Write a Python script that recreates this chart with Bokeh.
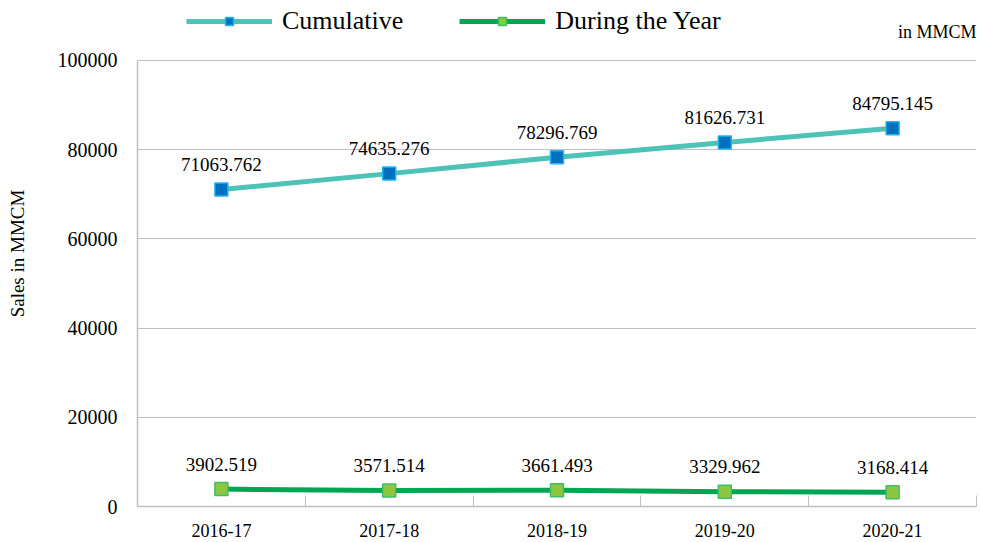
from bokeh.plotting import figure
from bokeh.models import (Range1d, FixedTicker, ColumnDataSource, LabelSet, Label,
                          Legend, LegendItem)
from bokeh.embed import file_html
from bokeh.resources import INLINE

years = ["2016-17", "2017-18", "2018-19", "2019-20", "2020-21"]
cumulative = [71063.762, 74635.276, 78296.769, 81626.731, 84795.145]
during_year = [3902.519, 3571.514, 3661.493, 3329.962, 3168.414]
y_ticks = [0, 20000, 40000, 60000, 80000, 100000]

FONT = "Liberation Serif"
xs = [i + 0.5 for i in range(len(years))]

# frame spans the whole height above the x axis; the value axis is bounded to 0..100000
p = figure(width=978, height=540, output_backend="svg", toolbar_location=None,
           x_range=Range1d(0, len(years)), y_range=Range1d(0, 113452),
           min_border_left=137, min_border_right=2, min_border_top=0, min_border_bottom=34)
p.outline_line_color = None
p.background_fill_color = "white"
p.border_fill_color = "white"

# axes
p.xaxis.ticker = FixedTicker(ticks=xs, minor_ticks=[1, 2, 3, 4, 5])
p.xaxis.major_label_overrides = {x: y for x, y in zip(xs, years)}
p.xaxis.major_tick_line_color = None
p.xaxis.minor_tick_in = 11
p.xaxis.minor_tick_out = 0
p.xaxis.minor_tick_line_color = "#BFBFBF"
p.xaxis.axis_line_color = "#BFBFBF"
p.xaxis.axis_line_width = 1.5
p.xaxis.major_label_text_font = FONT
p.xaxis.major_label_text_font_size = "18px"
p.xaxis.major_label_text_color = "#000000"
p.xaxis.major_label_standoff = 11

p.yaxis.ticker = FixedTicker(ticks=y_ticks)
p.yaxis.bounds = (0, 100000)
p.yaxis.major_tick_line_color = None
p.yaxis.minor_tick_line_color = None
p.yaxis.axis_line_color = "#BFBFBF"
p.yaxis.axis_line_width = 1.5
p.yaxis.major_label_text_font = FONT
p.yaxis.major_label_text_font_size = "20px"
p.yaxis.major_label_text_color = "#000000"
p.yaxis.major_label_standoff = 14
p.yaxis.formatter.use_scientific = False
p.yaxis.axis_label = "Sales in MMCM"
p.yaxis.axis_label_text_font = FONT
p.yaxis.axis_label_text_font_size = "19px"
p.yaxis.axis_label_text_font_style = "normal"
p.yaxis.axis_label_text_color = "#000000"
p.yaxis.axis_label_standoff = 27

p.xgrid.grid_line_color = None
p.ygrid.ticker = FixedTicker(ticks=y_ticks[1:])
p.ygrid.grid_line_color = "#BFBFBF"
p.ygrid.grid_line_width = 1.2

src = ColumnDataSource(dict(x=xs, cum=cumulative, dur=during_year,
                            cum_lbl=[f"{v:.3f}" for v in cumulative],
                            dur_lbl=[f"{v:.3f}" for v in during_year]))

l1 = p.line("x", "cum", source=src, line_color="#4DC3B8", line_width=5)
m1 = p.scatter("x", "cum", source=src, marker="square", size=13,
               fill_color="#0070C0", line_color="#22B4EE", line_width=1.5)
l2 = p.line("x", "dur", source=src, line_color="#00A651", line_width=5)
m2 = p.scatter("x", "dur", source=src, marker="square", size=13,
               fill_color="#8DC63F", line_color="#3CC065", line_width=1.5)

for col, lbl in (("cum", "cum_lbl"), ("dur", "dur_lbl")):
    p.add_layout(LabelSet(x="x", y=col, text=lbl, source=src, text_align="center",
                          text_baseline="middle", y_offset=25, text_font=FONT,
                          text_font_size="19px", text_color="#000000"))

legend = Legend(items=[LegendItem(label="Cumulative", renderers=[l1, m1]),
                       LegendItem(label="During the Year", renderers=[l2, m2])],
                orientation="horizontal", location=(49, 470),
                glyph_width=86, glyph_height=20, label_standoff=10, spacing=56,
                padding=4, margin=0, border_line_color=None, background_fill_alpha=0,
                label_text_font=FONT, label_text_font_size="26px", label_text_color="#000000")
p.add_layout(legend, "center")

p.add_layout(Label(x=5, y=106278, text="in MMCM", text_align="right",
                   text_baseline="middle", text_font=FONT, text_font_size="18px",
                   text_color="#000000"))

open("out.html", "w").write(file_html(p, INLINE))
